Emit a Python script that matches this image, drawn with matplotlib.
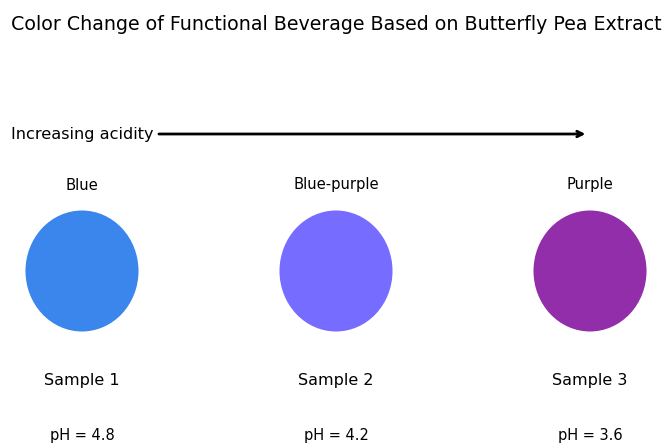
import matplotlib
matplotlib.use('Agg')
import matplotlib.pyplot as plt
from matplotlib.patches import Ellipse

samples = ['Sample 1', 'Sample 2', 'Sample 3']
ph_values = [4.8, 4.2, 3.6]
color_names = ['Blue', 'Blue-purple', 'Purple']
colors = ['#3a86ec', '#766cff', '#922eaa']

fig = plt.figure(figsize=(6.64, 4.44), dpi=100)
ax = fig.add_axes([0, 0, 1, 1])
ax.set_xlim(-0.3228, 2.2913)
ax.set_ylim(0, 444)
ax.axis('off')

for i in range(len(samples)):
    ax.add_patch(Ellipse((i, 173), 0.445, 121, color=colors[i], lw=0))
    ax.text(i, 259, color_names[i], ha='center', va='center', fontsize=10.6)
    ax.text(i, 64, samples[i], ha='center', va='center', fontsize=11.5)
    ax.text(i, 9, 'pH = %.1f' % ph_values[i], ha='center', va='center', fontsize=10.5)

fig.text(11/664, 1 - 24/444, 'Color Change of Functional Beverage Based on Butterfly Pea Extract',
         ha='left', va='center', fontsize=13.7)

ax.text(-0.2795, 310, 'Increasing acidity', ha='left', va='center', fontsize=11.6)
# arrow from just right of the label to just before the last sample
ax.annotate('', xy=(1.982, 310), xytext=(0.303, 310),
            arrowprops=dict(arrowstyle='->', lw=2, color='black', shrinkA=0, shrinkB=0))

plt.savefig('out.png', dpi=100)
plt.close()
